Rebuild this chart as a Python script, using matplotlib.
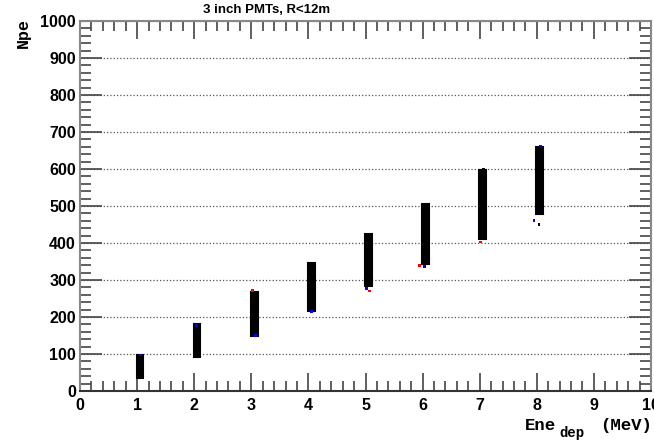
import matplotlib.pyplot as plt
from matplotlib.ticker import MultipleLocator

# deposited energy (MeV) and Npe spread of each dense cluster
energy = [1, 2, 3, 4, 5, 6, 7, 8]
npe_low = [36, 93, 150, 215, 283, 342, 410, 478]
npe_high = [96, 180, 268, 345, 425, 505, 598, 660]

# a few stray points around the clusters
out_e = [1.06, 2.03, 3.02, 3.08, 4.05, 5.02, 5.07, 5.95, 6.03, 7.02, 7.06, 7.95, 8.04, 8.06]
out_npe = [97, 178, 272, 150, 214, 276, 270, 340, 336, 403, 600, 460, 449, 662]
out_col = ['blue', 'blue', 'red', 'blue', 'blue', 'blue', 'red', 'red', 'blue', 'red', 'black', 'blue', 'black', 'blue']

fig = plt.figure(figsize=(6.54, 4.46), dpi=100)
ax = fig.add_axes([80 / 654, 1 - 391 / 446, 571 / 654, 370 / 446])

heights = [h - l for l, h in zip(npe_low, npe_high)]
ax.bar([e + 0.05 for e in energy], heights, bottom=npe_low, width=0.12,
       color='black', edgecolor='black', linewidth=1.5, zorder=3)
ax.scatter(out_e, out_npe, s=4, c=out_col, marker='s', linewidths=0, zorder=4)

ax.set_xlim(0, 10)
ax.set_ylim(0, 1000)
ax.xaxis.set_major_locator(MultipleLocator(1))
ax.xaxis.set_minor_locator(MultipleLocator(0.2))
ax.yaxis.set_major_locator(MultipleLocator(100))
ax.yaxis.set_minor_locator(MultipleLocator(20))
ax.tick_params(which='both', direction='in', top=True, right=True, color='#444444')
ax.tick_params(axis='x', which='major', length=13, width=1.2, pad=5)
ax.tick_params(axis='x', which='minor', length=7, width=1.2)
ax.tick_params(axis='y', which='major', length=16, width=1.2, pad=3)
ax.tick_params(axis='y', which='minor', length=8, width=1.2)
ax.tick_params(which='major', labelsize=11.5)
for lab in ax.get_xticklabels() + ax.get_yticklabels():
    lab.set_fontweight('bold')
    lab.set_family('Liberation Sans')

ax.grid(axis='y', which='major', linestyle=':', color='#555555', linewidth=0.9)
ax.set_axisbelow(True)
for s in ax.spines.values():
    s.set_color('#888888')
    s.set_linewidth(1.5)
ax.spines['bottom'].set_color('#333333')

fig.text(0.31, 0.977, '3 inch PMTs, R<12m', ha='left', va='center',
         fontsize=9.5, fontweight='bold', family='Liberation Sans')
fig.text(0.036, 0.96, 'Npe', rotation=90, ha='center', va='top',
         fontsize=12, fontweight='bold', family='Liberation Mono')

# x label: "Ene" with subscript "dep", then "(MeV)", all in bold Courier-like
mono = dict(fontweight='bold', family='Liberation Mono')
fig.text(0.997, 0.047, '(MeV)', ha='right', va='center', fontsize=12.5, **mono)
fig.text(0.803, 0.047, 'Ene', ha='left', va='center', fontsize=12.5, **mono)
fig.text(0.855, 0.030, 'dep', ha='left', va='center', fontsize=10, **mono)

fig.savefig('out.png', dpi=100)
